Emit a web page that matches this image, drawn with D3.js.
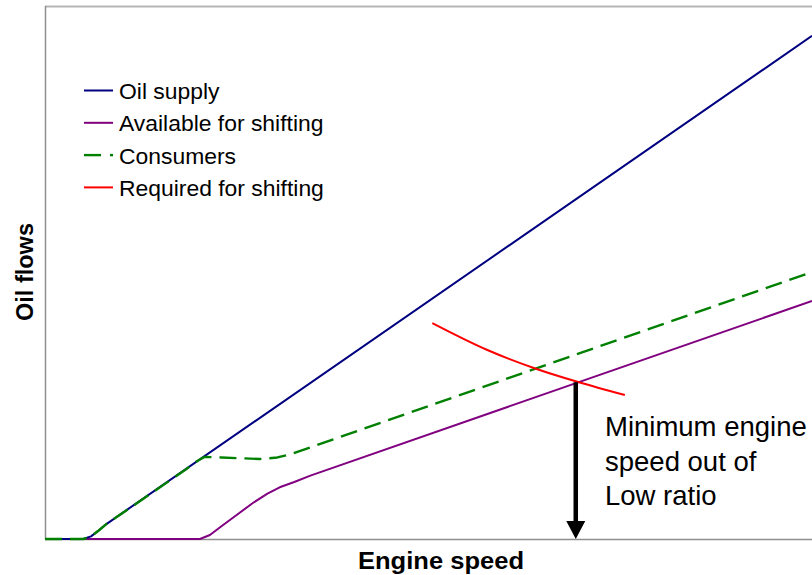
<!DOCTYPE html>
<html>
<head>
<meta charset="utf-8">
<script src="https://cdn.jsdelivr.net/npm/d3@7/dist/d3.min.js"></script>
<style>
  html, body { margin: 0; padding: 0; background: #fff; }
  svg { display: block; font-family: "Liberation Sans", Arial, Helvetica, sans-serif; }
</style>
</head>
<body>
<svg id="chart" width="812" height="575"></svg>
<script>
// Engine speed (x) vs oil flow (y), arbitrary units 0..100
const oilSupply = [[0,0],[5,0],[6,0.5],[7,1.6],[8,2.8],[100,94.4]];
const availableForShifting = [[0,0],[20.2,0],[21.5,0.75],[23,2.4],[24.5,4.0],[27.1,6.75],[29,8.5],[30.6,9.7],[32.5,10.7],[34.6,11.9],[100,44.65]];
const consumers = [[0,0],[5,0],[6,0.5],[7,1.6],[8,2.8],[14,8.7],[18.5,13.2],[19.8,14.6],[20.8,15.4],[23,15.3],[28,15.0],[30.3,15.3],[32,15.9],[35,17.4],[100,50.1]];
const requiredForShifting = [[50.5,40.5],[57.6,35.5],[64.1,31.9],[69.4,29.5],[75.6,27.0]];

const seriesNames = ["Oil supply", "Available for shifting", "Consumers", "Required for shifting"];
const seriesColors = ["#000080", "#800080", "#008000", "#ff0000"];
const seriesData = [oilSupply, availableForShifting, consumers, requiredForShifting];

// Minimum engine speed out of Low ratio (where required meets available)
const minSpeed = 69.2;
const minSpeedFlow = 29.4;
const annotationLines = ["Minimum engine", "speed out of", "Low ratio"];

const xTitle = "Engine speed";
const yTitle = "Oil flows";

const svg = d3.select("#chart");
const plot = { left: 45, top: 6, right: 812, bottom: 539 };

const x = d3.scaleLinear().domain([0, 100]).range([plot.left, plot.right]);
const y = d3.scaleLinear().domain([0, 100]).range([plot.bottom, plot.top]);

svg.append("defs").append("clipPath").attr("id", "plotClip")
  .append("rect").attr("x", plot.left).attr("y", 0)
  .attr("width", plot.right - plot.left + 5).attr("height", plot.bottom + 2);

// Plot frame
svg.append("line").attr("x1", plot.left).attr("x2", 812).attr("y1", plot.top + 0.5).attr("y2", plot.top + 0.5)
  .attr("stroke", "#b5b5b5").attr("stroke-width", 2);
svg.append("line").attr("x1", plot.left + 0.5).attr("x2", plot.left + 0.5).attr("y1", plot.top).attr("y2", plot.bottom)
  .attr("stroke", "#8f8f8f").attr("stroke-width", 1.5);
svg.append("line").attr("x1", plot.left).attr("x2", 812).attr("y1", plot.bottom + 0.5).attr("y2", plot.bottom + 0.5)
  .attr("stroke", "#8f8f8f").attr("stroke-width", 1.5);

const straight = d3.line().x(d => x(d[0])).y(d => y(d[1])).curve(d3.curveLinear);
const smooth = d3.line().x(d => x(d[0])).y(d => y(d[1])).curve(d3.curveMonotoneX);

const g = svg.append("g").attr("clip-path", "url(#plotClip)");
const drawOrder = [1, 0, 2, 3];
drawOrder.forEach(i => {
  g.append("path")
    .attr("d", i === 3 ? smooth(seriesData[i]) : straight(seriesData[i]))
    .attr("fill", "none")
    .attr("stroke", seriesColors[i])
    .attr("stroke-width", i === 2 ? 2.4 : 2)
    .attr("stroke-dasharray", i === 2 ? "17,8" : null)
    .attr("stroke-linejoin", "round");
});

// Arrow down to the engine-speed axis
const ax = x(minSpeed);
const headH = 18, headW = 9.5;
svg.append("line")
  .attr("x1", ax).attr("x2", ax)
  .attr("y1", y(minSpeedFlow)).attr("y2", y(0) - headH + 1)
  .attr("stroke", "#000").attr("stroke-width", 4.5);
svg.append("path")
  .attr("d", `M${ax - headW},${y(0) - headH} L${ax + headW},${y(0) - headH} L${ax},${y(0)} Z`)
  .attr("fill", "#000");

// Annotation text
const ann = svg.append("text")
  .attr("x", 605).attr("y", 436)
  .attr("font-size", 27.5).attr("fill", "#000");
annotationLines.forEach((t, i) => {
  ann.append("tspan").attr("x", 605).attr("dy", i === 0 ? 0 : 34.5).text(t);
});

// Legend
const legend = svg.append("g");
seriesNames.forEach((name, i) => {
  const ly = 90.5 + i * 32.3;
  if (i === 2) {
    legend.append("line").attr("x1", 84).attr("x2", 101).attr("y1", ly).attr("y2", ly)
      .attr("stroke", seriesColors[i]).attr("stroke-width", 2.4);
    legend.append("line").attr("x1", 110).attr("x2", 113).attr("y1", ly).attr("y2", ly)
      .attr("stroke", seriesColors[i]).attr("stroke-width", 2.4);
  } else {
    legend.append("line").attr("x1", 84).attr("x2", 113).attr("y1", ly).attr("y2", ly)
      .attr("stroke", seriesColors[i]).attr("stroke-width", 2);
  }
  legend.append("text").attr("x", 119).attr("y", ly + 8.5)
    .attr("font-size", 22.9).attr("fill", "#000").text(name);
});

// Axis titles
svg.append("text")
  .attr("x", 441).attr("y", 569)
  .attr("text-anchor", "middle")
  .attr("font-size", 23.5).attr("font-weight", "bold").attr("fill", "#000")
  .attr("textLength", 166).attr("lengthAdjust", "spacingAndGlyphs")
  .text(xTitle);
svg.append("text")
  .attr("transform", "translate(33,272) rotate(-90)")
  .attr("text-anchor", "middle")
  .attr("font-size", 23.5).attr("font-weight", "bold").attr("fill", "#000")
  .attr("textLength", 98).attr("lengthAdjust", "spacingAndGlyphs")
  .text(yTitle);
</script>
</body>
</html>
